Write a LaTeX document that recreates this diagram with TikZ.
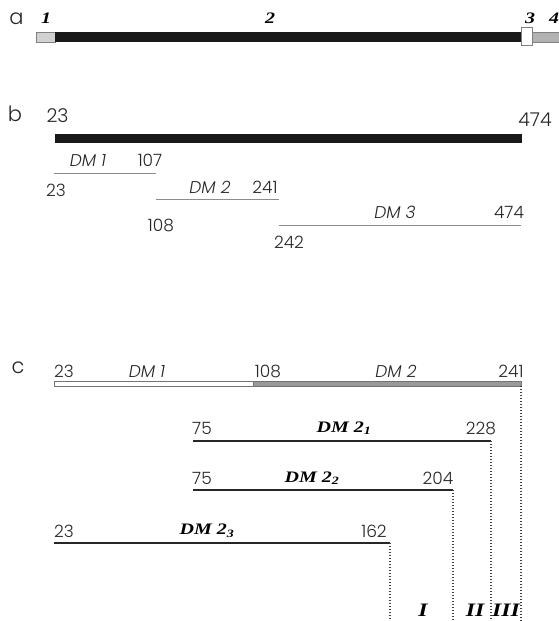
\documentclass[tikz,border=0pt]{standalone}
\usepackage{fontspec}
\IfFontExistsTF{Poppins Light}{\setmainfont{Poppins Light}}{\setmainfont{Poppins}}
\newfontfamily\serifbi[FakeStretch=1.25]{Liberation Serif}
\begin{document}
\begin{tikzpicture}[x=1pt,y=-1pt,
  lbl/.style={inner sep=0pt,font=\fontsize{17}{17}\selectfont,text=black!85},
  big/.style={inner sep=0pt,font=\fontsize{19}{19}\selectfont,text=black!85},
  panel/.style={inner sep=0pt,font=\fontsize{21}{21}\selectfont,text=black!85},
  dm/.style={lbl,font=\fontsize{17}{17}\selectfont\itshape},
  bi/.style={inner sep=0pt,font=\fontsize{16}{16}\serifbi\bfseries\itshape},
  rom/.style={inner sep=0pt,font=\fontsize{19}{19}\serifbi\bfseries\itshape},
  thin/.style={draw=black!45,line width=0.9pt},
  thick/.style={line width=2pt,black!85},
  dots/.style={dash pattern=on 1pt off 2pt,line width=1.1pt,black!75}]
\useasboundingbox (0,0) rectangle (559,621);
% panel a
\node[panel] (la) at (16.5,19) {a};
\fill[black!18,draw=black!50,line width=0.5pt] (36,32) rectangle (55,42);
\fill[black!90] (55,32) rectangle (521,42);
\fill[black!30] (532,32) rectangle (559,42);
\draw[black!50,line width=0.5pt] (532,32) -- (559,32) (532,42) -- (559,42);
\node[draw=black!50,fill=white,line width=0.5pt,minimum width=11pt,minimum height=18pt,inner sep=0pt] (box3) at (526.5,36) {};
\node[bi] (n1) at (46,18) {1};
\node[bi] (n2) at (270,18) {2};
\node[bi] (n3) at (530,18) {3};
\node[bi] (n4) at (554,18) {4};
% panel b
\node[panel] (lb) at (15,114) {b};
\node[big] (b23) at (57.5,115.5) {23};
\node[big] (b474) at (535,119.5) {474};
\fill[black!90] (55,134) rectangle (522,143);
\coordinate (d1a) at (54,173); \coordinate (d1b) at (156,173);
\coordinate (d2a) at (156,199.5); \coordinate (d2b) at (279,199.5);
\coordinate (d3a) at (279,225.5); \coordinate (d3b) at (521,225.5);
\draw[thin] (d1a) -- (d1b);
\draw[thin] (d2a) -- (d2b);
\draw[thin] (d3a) -- (d3b);
\node[dm] (bdm1) at (88,160.5) {DM 1};
\node[lbl] (b107) at (150,160.5) {107};
\node[lbl] (b23b) at (56,190) {23};
\node[dm] (bdm2) at (210,187) {DM 2};
\node[lbl] (b241) at (265,187) {241};
\node[lbl] (b108) at (161,225.5) {108};
\node[dm] (bdm3) at (395,212) {DM 3};
\node[lbl] (b474b) at (509,212) {474};
\node[lbl] (b242) at (289,242.5) {242};
% panel c
\node[panel] (lc) at (18,368) {c};
\draw[black!55,line width=0.5pt,fill=white] (54,381) rectangle (253,386);
\draw[black!55,line width=0.5pt,fill=black!40] (253,381) rectangle (521,386);
\node[lbl] (c23) at (64,371) {23};
\node[dm] (cdm1) at (147,371) {DM 1};
\node[lbl] (c108) at (268,371) {108};
\node[dm] (cdm2) at (396,371) {DM 2};
\node[lbl] (c241) at (511,371) {241};
\coordinate (e1a) at (193,441); \coordinate (e1b) at (491,441);
\coordinate (e2a) at (193,490); \coordinate (e2b) at (453,490);
\coordinate (e3a) at (54,543); \coordinate (e3b) at (390,543);
\draw[thick] (e1a) -- (e1b);
\draw[thick] (e2a) -- (e2b);
\draw[thick] (e3a) -- (e3b);
\node[lbl] (e175) at (202,428.5) {75};
\node[bi] (edm1) at (344,428) {DM 2\textsubscript{1}};
\node[lbl] (e1228) at (481,428.5) {228};
\node[lbl] (e275) at (202,478.5) {75};
\node[bi] (edm2) at (312,478) {DM 2\textsubscript{2}};
\node[lbl] (e2204) at (438,478.5) {204};
\node[lbl] (e323) at (64,531.5) {23};
\node[bi] (edm3) at (207,531) {DM 2\textsubscript{3}};
\node[lbl] (e3162) at (374,531.5) {162};
\coordinate (c0) at (521,386);
\coordinate (z0) at (521,621);
\coordinate (z1) at (491,621);
\coordinate (z2) at (453,621);
\coordinate (z3) at (390,621);
\draw[dots] (c0) -- (z0);
\draw[dots] (e1b) -- (z1);
\draw[dots] (e2b) -- (z2);
\draw[dots] (e3b) -- (z3);
\node[rom] (rI) at (423,610) {I};
\node[rom] (rII) at (475,610) {II};
\node[rom] (rIII) at (506,610) {III};
\end{tikzpicture}
\end{document}
